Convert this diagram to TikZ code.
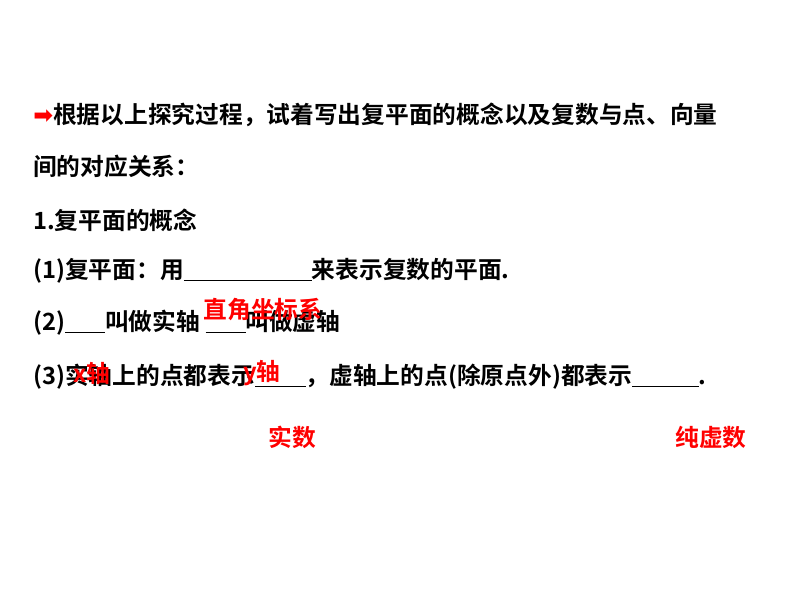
\documentclass[tikz,border=0pt]{standalone}
\usepackage{fontspec}
\newfontfamily\cjk{Noto Sans CJK SC}[BoldFont={Noto Sans CJK SC Bold}]
\newfontfamily\dv{DejaVu Sans}
\begin{document}
\begin{tikzpicture}[x=0.75pt,y=-0.75pt,
  txt/.style={anchor=west,inner sep=0pt,font=\cjk\bfseries\fontsize{17.8}{20}\selectfont},
  ans/.style={inner sep=0pt,text=red,font=\cjk\bfseries\fontsize{17.8}{20}\selectfont}]
\useasboundingbox (0,0) rectangle (794,596);
\node[txt] (l1) at (33,115) {{\dv\color{red}➡}根据以上探究过程，试着写出复平面的概念以及复数与点、向量};
\node[txt] (l2) at (33,166) {间的对应关系：};
\node[txt] (l3) at (33,220) {1.复平面的概念};
\node[txt] (l4) at (33,271) {(1)复平面：用\underline{\hspace{96pt}}来表示复数的平面.};
\node[txt] (l5) at (33,323) {(2)\underline{\hspace{30pt}}叫做实轴 \underline{\hspace{30pt}}叫做虚轴};
\node[txt] (l6) at (33,377) {(3)实轴上的点都表示\underline{\hspace{38pt}}，虚轴上的点(除原点外)都表示\underline{\hspace{50pt}}.};
\node[ans] (a1) at (263,310) {直角坐标系};
\node[ans] (a2) at (92,373) {x轴};
\node[ans] (a3) at (262,373) {y轴};
\node[ans] (a4) at (292,437) {实数};
\node[ans] (a5) at (711,437) {纯虚数};
\end{tikzpicture}
\end{document}
